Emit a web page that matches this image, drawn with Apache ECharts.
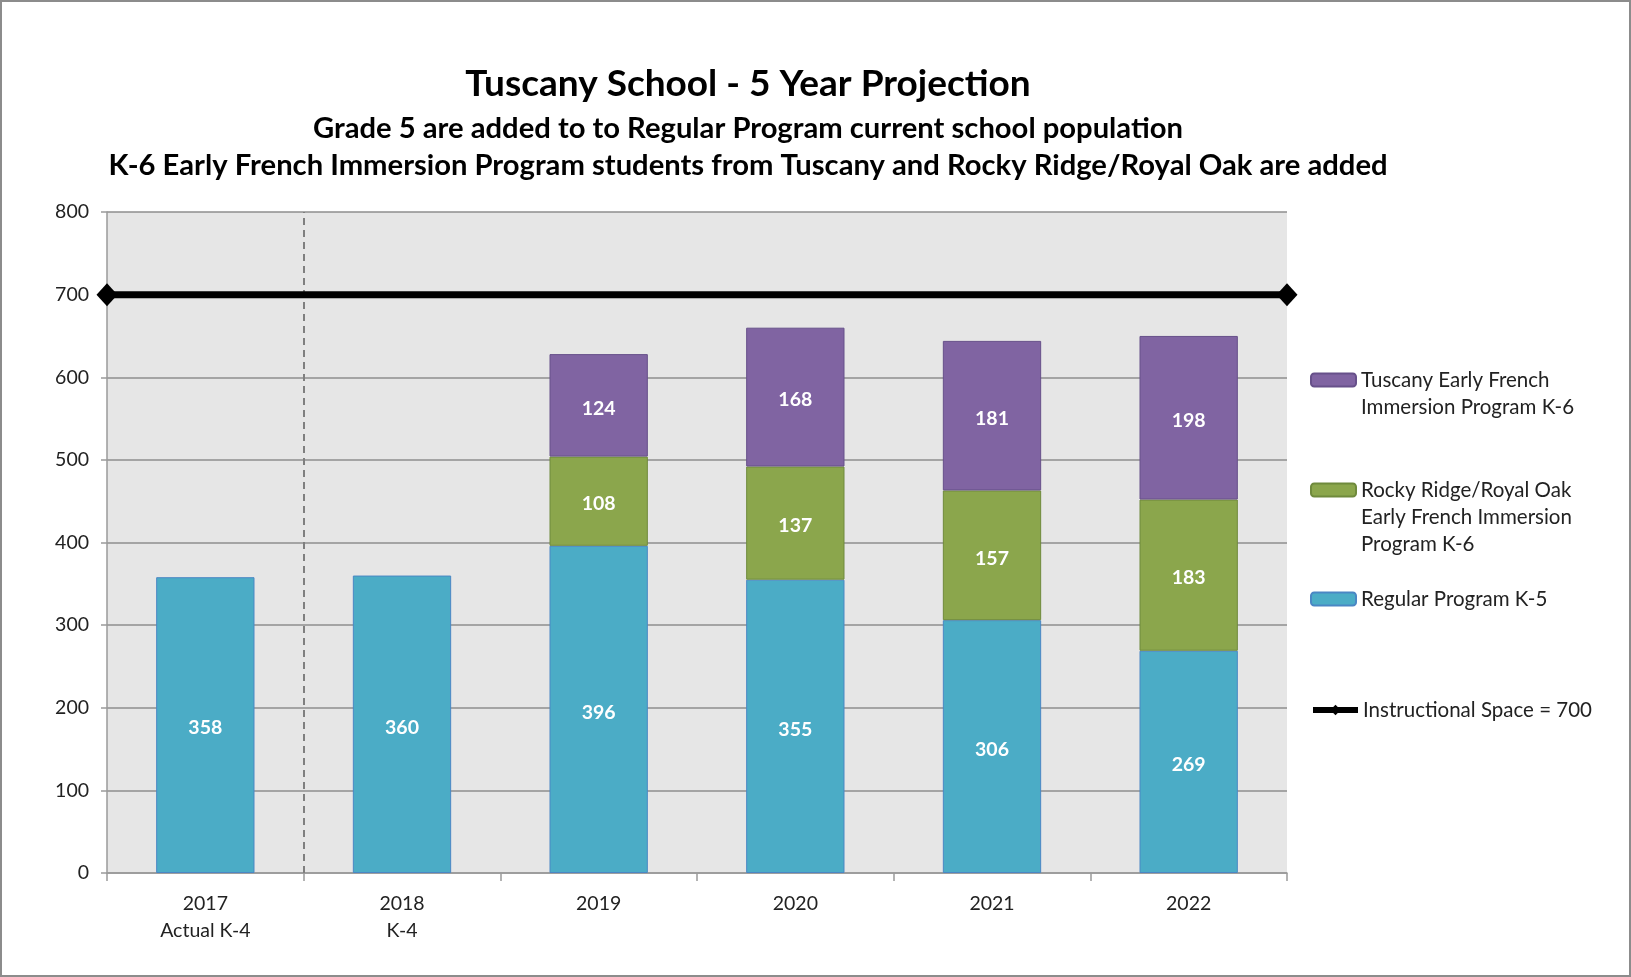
<!DOCTYPE html>
<html>
<head>
<meta charset="utf-8">
<title>Tuscany School - 5 Year Projection</title>
<script src="https://cdn.jsdelivr.net/npm/echarts@6/dist/echarts.min.js"></script>
<style>
  html, body { margin: 0; padding: 0; background: #fff; }
  #chart { width: 1631px; height: 977px; }
</style>
</head>
<body>
<div id="chart"></div>
<script>
// data
const years = ['2017\nActual K-4', '2018\nK-4', '2019', '2020', '2021', '2022'];
const regular = [358, 360, 396, 355, 306, 269];
const rockyRidge = [null, null, 108, 137, 157, 183];
const tuscanyFI = [null, null, 124, 168, 181, 198];
const spaceX = [0, 6];          // across the full width of the plot
const spaceValue = 700;
const dividerX = 1;             // between 2017 and 2018
const yTicks = { min: 0, max: 800, interval: 100 };

const names = {
  regular: 'Regular Program K-5',
  rocky: 'Rocky Ridge/Royal Oak Early French Immersion Program K-6',
  tuscany: 'Tuscany Early French Immersion Program K-6',
  space: 'Instructional Space = 700'
};
const legendLines = {
  [names.tuscany]: ['Tuscany Early French', 'Immersion Program K-6'],
  [names.rocky]: ['Rocky Ridge/Royal Oak', 'Early French Immersion', 'Program K-6'],
  [names.regular]: ['Regular Program K-5'],
  [names.space]: ['Instructional Space = 700']
};

const FONT = 'Lato';
const LH = 27;

// one legend per entry so they can sit where Excel put them
function legendAt(name, iconCenterY) {
  const n = legendLines[name].length;
  return {
    data: [name],
    orient: 'vertical',
    left: 1310,
    top: iconCenterY - (2 * n - 1) * LH / 2,
    padding: 0,
    itemWidth: 45,
    itemHeight: 13,
    selectedMode: false,
    lineStyle: { width: 6 },
    formatter: nm => '\n'.repeat(legendLines[nm].length - 1) + legendLines[nm].join('\n'),
    textStyle: { fontFamily: FONT, fontSize: 20.5, lineHeight: LH, color: '#222' }
  };
}

const barLabel = { show: true, position: 'inside', offset: [0, 3], color: '#fff', fontFamily: FONT, fontWeight: 'bold', fontSize: 19.5 };

const chart = echarts.init(document.getElementById('chart'));
chart.setOption({
  animation: false,
  backgroundColor: '#fff',
  title: [
    { text: 'Tuscany School - 5 Year Projection', left: 743, top: 61, textAlign: 'center',
      textStyle: { fontFamily: FONT, fontWeight: 'bold', fontSize: 37, color: '#000' } },
    { text: 'Grade 5 are added to to Regular Program current school population', left: 743, top: 109, textAlign: 'center',
      textStyle: { fontFamily: FONT, fontWeight: 'bold', fontSize: 29.2, color: '#000' } },
    { text: 'K-6 Early French Immersion Program students from Tuscany and Rocky Ridge/Royal Oak are added', left: 743, top: 146, textAlign: 'center',
      textStyle: { fontFamily: FONT, fontWeight: 'bold', fontSize: 29.2, color: '#000' } }
  ],
  legend: [
    legendAt(names.tuscany, 380),
    legendAt(names.rocky, 490),
    legendAt(names.regular, 599),
    legendAt(names.space, 710)
  ],
  grid: { left: 107, right: 344, top: 212, bottom: 104, show: true, backgroundColor: '#e6e6e6', borderWidth: 0 },
  xAxis: [
    {
      type: 'category', data: years,
      axisLine: { lineStyle: { color: '#9a9a9a', width: 1.5 } },
      axisTick: { show: true, length: 8, lineStyle: { color: '#9a9a9a', width: 1.5 } },
      axisLabel: { margin: 17, color: '#222', fontFamily: FONT, fontSize: 19.5, lineHeight: LH }
    },
    { type: 'value', min: 0, max: 6, show: false }
  ],
  yAxis: {
    type: 'value', min: yTicks.min, max: yTicks.max, interval: yTicks.interval,
    axisLine: { show: true, lineStyle: { color: '#9a9a9a', width: 1.5 } },
    axisTick: { show: true, length: 6, lineStyle: { color: '#9a9a9a', width: 1.5 } },
    axisLabel: { margin: 18, color: '#222', fontFamily: FONT, fontSize: 19.5 },
    splitLine: { lineStyle: { color: '#8e8e8e', width: 1.5 } }
  },
  series: [
    { name: names.regular, type: 'bar', stack: 'total', data: regular, barCategoryGap: '50%',
      itemStyle: { color: '#4bacc6', borderColor: '#4a87c4', borderWidth: 1 }, label: barLabel },
    { name: names.rocky, type: 'bar', stack: 'total', data: rockyRidge,
      itemStyle: { color: '#8ba64c', borderColor: '#6f8a3c', borderWidth: 1 }, label: barLabel },
    { name: names.tuscany, type: 'bar', stack: 'total', data: tuscanyFI,
      itemStyle: { color: '#8064a2', borderColor: '#67508a', borderWidth: 1 }, label: barLabel },
    {
      name: names.space, type: 'line', xAxisIndex: 1, clip: false, z: 5,
      data: spaceX.map(x => [x, spaceValue]),
      symbol: 'diamond', symbolSize: [21, 23],
      lineStyle: { color: '#000', width: 7 },
      itemStyle: { color: '#000' },
      markLine: {
        silent: true, symbol: 'none', label: { show: false },
        lineStyle: { color: '#7f7f7f', type: [7, 5], width: 2 },
        data: [{ xAxis: dividerX }]
      }
    }
  ],
  graphic: [
    { type: 'rect', silent: true, z: 100, shape: { x: 1, y: 1, width: 1629, height: 975 },
      style: { fill: 'none', stroke: '#8c8c8c', lineWidth: 2 } }
  ]
});
</script>
</body>
</html>
